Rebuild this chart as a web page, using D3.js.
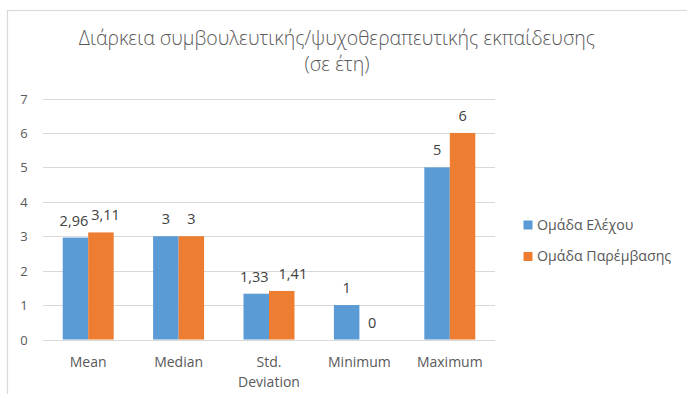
<!DOCTYPE html>
<html><head><meta charset="utf-8">
<script src="https://cdn.jsdelivr.net/npm/d3@7"></script>
<style>body{margin:0;background:#fff}svg{display:block}</style>
</head><body><svg id="c" width="687" height="394"></svg>
<script>
const categories = [["Mean"],["Median"],["Std.","Deviation"],["Minimum"],["Maximum"]];
const seriesNames = ["Ομάδα Ελέχου","Ομάδα Παρέμβασης"];
const controlValues = [2.96,3,1.33,1,5];
const interventionValues = [3.11,3,1.41,0,6];
const controlLabels = ["2,96","3","1,33","1","5"];
const interventionLabels = ["3,11","3","1,41","0","6"];
const yTicks = [0,1,2,3,4,5,6,7];
const colors = ["#5B9BD5","#ED7D31"];
const titleLines = ["Διάρκεια συμβουλευτικής/ψυχοθεραπευτικής εκπαίδευσης","(σε έτη)"];

const svg = d3.select("#c");
const font = "'Open Sans', sans-serif";
const txt = "#595959";

svg.append("rect").attr("x",7.5).attr("y",10.5).attr("width",700).attr("height",420)
  .attr("fill","#fff").attr("stroke","#d9d9d9").attr("stroke-width",1.2);

const x0 = d3.scaleBand().domain(d3.range(categories.length)).range([43,495]).paddingInner(0.436).paddingOuter(0.218);
const x1 = d3.scaleBand().domain([0,1]).range([0,x0.bandwidth()]);
const y = d3.scaleLinear().domain([0,7]).range([339.5,98.5]);

// gridlines
svg.append("g").selectAll("line").data(yTicks).join("line")
  .attr("x1",43).attr("x2",495).attr("y1",d=>Math.round(y(d))+0.5).attr("y2",d=>Math.round(y(d))+0.5)
  .attr("stroke","#d9d9d9").attr("stroke-width",1.2);

// y axis labels
const yAxis = d3.axisLeft(y).tickValues(yTicks).tickSize(0).tickPadding(0).tickFormat(d3.format("d"));
const ga = svg.append("g").attr("transform","translate(24,0)").call(yAxis);
ga.select(".domain").remove();
ga.selectAll("text").attr("fill",txt).attr("font-family",font).attr("font-size",13).attr("text-anchor","middle").attr("dy","0.35em");

const series = [controlValues, interventionValues];
const labels = [controlLabels, interventionLabels];
const labelSel = [];
series.forEach((vals,s)=>{
  svg.append("g").selectAll("rect").data(vals).join("rect")
    .attr("x",(d,i)=>x0(i)+x1(s)).attr("width",x1.bandwidth())
    .attr("y",d=>y(d)).attr("height",d=>y(0)-y(d)).attr("fill",colors[s]);
  labelSel.push(svg.append("g").selectAll("text").data(vals).join("text")
    .attr("x",(d,i)=>x0(i)+x1(s)+x1.bandwidth()/2).attr("y",d=>y(d)-12)
    .attr("text-anchor","middle").attr("fill","#404040").attr("font-family",font).attr("font-size",14.5)
    .text((d,i)=>labels[s][i]));
});
// simple label collision avoidance (like the spreadsheet does)
const n0 = labelSel[0].nodes(), n1 = labelSel[1].nodes();
categories.forEach((c,i)=>{
  const a = n0[i], b = n1[i];
  const xa = +a.getAttribute("x"), xb = +b.getAttribute("x");
  const wa = a.getComputedTextLength(), wb = b.getComputedTextLength();
  const dy = Math.abs(+a.getAttribute("y") - +b.getAttribute("y"));
  const gap = dy < 4 ? 10 : 3;
  const overlap = (xa + wa/2 + gap) - (xb - wb/2);
  if (overlap > 0) {
    const left = Math.min(2, overlap/4);
    a.setAttribute("x", xa - left);
    b.setAttribute("x", xb + overlap - left);
  }
});

// category labels
const cg = svg.append("g");
categories.forEach((lines,i)=>{
  const t = cg.append("text").attr("x",x0(i)+x0.bandwidth()/2).attr("y",367)
    .attr("text-anchor","middle").attr("fill",txt).attr("font-family",font).attr("font-size",14);
  lines.forEach((l,j)=>t.append("tspan").attr("x",x0(i)+x0.bandwidth()/2).attr("dy",j?19.5:0).text(l));
});

// title
titleLines.forEach((l,j)=>{
  svg.append("text").attr("x",337).attr("y",45+j*25.5).attr("text-anchor","middle")
    .attr("fill",txt).attr("font-family",font).attr("font-size",19.5).attr("font-weight",300).text(l);
});

// legend
seriesNames.forEach((n,s)=>{
  const ly = 225 + s*31.5;
  svg.append("rect").attr("x",523.5).attr("y",ly-4.5).attr("width",9).attr("height",9).attr("fill",colors[s]);
  svg.append("text").attr("x",537).attr("y",ly).attr("dy","0.35em").attr("fill",txt)
    .attr("font-family",font).attr("font-size",14.2).text(n);
});
</script></body></html>
